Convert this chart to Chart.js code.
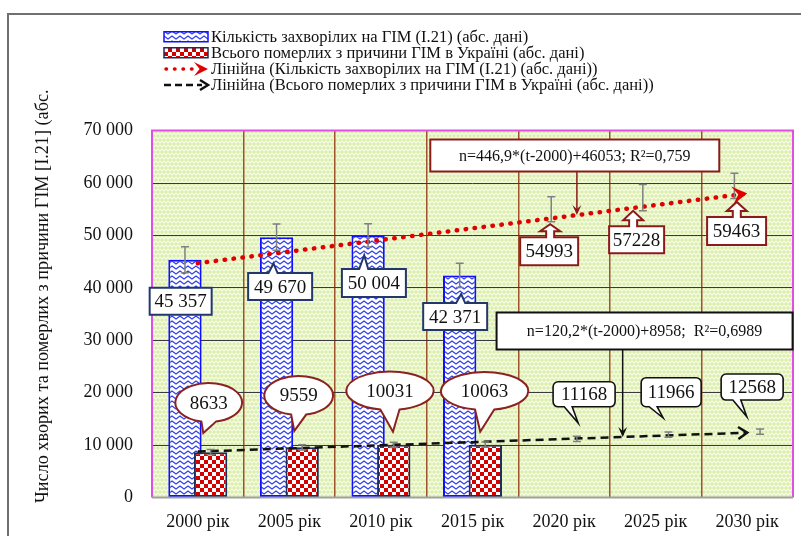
<!DOCTYPE html>
<html>
<head>
<meta charset="utf-8">
<script src="https://cdn.jsdelivr.net/npm/chart.js@4.4.1/dist/chart.umd.min.js"></script>
<style>
  html, body { margin: 0; padding: 0; background: #fff; }
  #wrap { position: relative; width: 801px; height: 536px; }
</style>
</head>
<body>
<div id="wrap"><canvas id="chart"></canvas></div>
<script>
// --- Data ---
const years = ['2000 рік', '2005 рік', '2010 рік', '2015 рік', '2020 рік', '2025 рік', '2030 рік'];
const sickCounts = [45357, 49670, 50004, 42371, null, null, null];
const deathCounts = [8633, 9559, 10031, 10063, null, null, null];
const sickForecast = [null, null, null, null, 54993, 57228, 59463];
const deathForecast = [null, null, null, null, 11168, 11966, 12568];
const sickTrend = [44700, null, null, null, null, null, 58000];
const deathTrend = [8750, null, null, null, null, null, 12350];
const sickError = [2500, 2500, 2200, 2300, 2400, 2500, 2400];
const deathError = [500, 500, 500, 500, 500, 500, 500];
const yMax = 70000;
const yStep = 10000;

const seriesNames = [
    'Кількість захворілих на ГІМ (І.21) (абс. дані)',
    'Всього померлих з причини ГІМ в Україні (абс. дані)',
    'Лінійна (Кількість захворілих на ГІМ (І.21) (абс. дані))',
    'Лінійна (Всього померлих з причини ГІМ в Україні (абс. дані))'
];
const sickEquation = 'n=446,9*(t-2000)+46053; R²=0,759';
const deathEquation = 'n=120,2*(t-2000)+8958;  R²=0,6989';
const yTitle = 'Число хворих та померлих з причини ГІМ [І.21] (абс.';

// --- Callout layout (offsets from the anchor point, px) ---
const sickLabelLayout = [
    { dx: -4.3, dy: 41.4, w: 62, h: 27, tip: null },
    { dx: 3.6, dy: 49.4, w: 64, h: 27, tip: [-3, 26.3] },
    { dx: 5.8, dy: 47.7, w: 64, h: 28, tip: [-3.9, 19.8] },
    { dx: -4.5, dy: 41.2, w: 64, h: 27, tip: [1.5, 18.7] }
];
const deathLabelLayout = [
    { dx: -1.9, dy: -49.6, rx: 33.4, ry: 19.5, tip: [-7.3, -19.1] },
    { dx: -3.5, dy: -51.8, rx: 34.4, ry: 19.5, tip: [-7.9, -16.3] },
    { dx: -3.8, dy: -54, rx: 43.7, ry: 19.2, tip: [-0.8, -13.1] },
    { dx: -0.7, dy: -53.6, rx: 43.7, ry: 19, tip: [-5.1, -12.9] }
];
const sickForecastLayout = [
    { dx: -2.1, dy: 41.9, w: 58, h: 28, tip: [-1.1, 14.9] },
    { dx: -6.2, dy: 42.3, w: 55, h: 27, tip: [-9.7, 13.3] },
    { dx: 2.2, dy: 45.2, w: 59, h: 28, tip: [2.4, 16.1] }
];
const deathForecastLayout = [
    { dx: 7.2, dy: -44.6, w: 62, h: 25, tip: [1.3, -15.8] },
    { dx: 2.7, dy: -42.5, w: 60, h: 29, tip: [-5.3, -16.7] },
    { dx: -7.9, dy: -44.5, w: 62, h: 26, tip: [-13.2, -14.8] }
];
const equationLayout = [
    { text: sickEquation, dataset: 2, at: 4.14, dx: -2.1, dy: -59.5, w: 289, h: 32, color: '#8b1a1a' },
    { text: deathEquation, dataset: 3, at: 4.64, dx: 21.9, dy: -105.9, w: 296, h: 37, color: '#111' }
];

const SERIF = '"Liberation Serif", "Times New Roman", serif';

// --- Patterns ---
const makePattern = (w, h, paint) => {
    const c = document.createElement('canvas');
    c.width = w; c.height = h;
    const g = c.getContext('2d');
    paint(g, w, h);
    return g.createPattern(c, 'repeat');
};

const plotPattern = makePattern(8, 8, (g) => {
    g.fillStyle = '#d9eea6';
    g.fillRect(0, 0, 8, 8);
    g.strokeStyle = '#f6fbe8';
    g.lineWidth = 1.3;
    g.beginPath();
    g.moveTo(-2, 3); g.lineTo(0, 1); g.lineTo(2, 3); g.lineTo(4, 1); g.lineTo(6, 3); g.lineTo(8, 1); g.lineTo(10, 3);
    g.moveTo(-2, 5); g.lineTo(0, 7); g.lineTo(2, 5); g.lineTo(4, 7); g.lineTo(6, 5); g.lineTo(8, 7); g.lineTo(10, 5);
    g.stroke();
});

const bluePattern = makePattern(8, 5, (g) => {
    g.fillStyle = '#ffffff';
    g.fillRect(0, 0, 8, 5);
    g.strokeStyle = '#2f3ff0';
    g.lineWidth = 1.3;
    g.beginPath();
    g.moveTo(-4, 1); g.lineTo(0, 4); g.lineTo(4, 1); g.lineTo(8, 4); g.lineTo(12, 1);
    g.stroke();
});

const redPattern = makePattern(8, 8, (g) => {
    g.fillStyle = '#ffffff';
    g.fillRect(0, 0, 8, 8);
    g.fillStyle = '#d40000';
    g.fillRect(0, 0, 4, 4);
    g.fillRect(4, 4, 4, 4);
});

const fmtThousands = (v) => v >= 1000 ? Math.floor(v / 1000) + ' ' + String(v % 1000).padStart(3, '0') : String(v);

// --- Drawing helpers ---
const arrowHead = (ctx, x, y, angle, len, half, color, filled, width) => {
    ctx.save();
    ctx.translate(x, y);
    ctx.rotate(angle);
    ctx.beginPath();
    if (filled) {
        ctx.moveTo(0, 0);
        ctx.lineTo(-len, -half);
        ctx.lineTo(-len * 0.6, 0);
        ctx.lineTo(-len, half);
        ctx.closePath();
        ctx.fillStyle = color;
        ctx.fill();
    } else {
        ctx.moveTo(-len, -half);
        ctx.lineTo(0, 0);
        ctx.lineTo(-len, half);
        ctx.strokeStyle = color;
        ctx.lineWidth = width;
        ctx.lineJoin = 'miter';
        ctx.setLineDash([]);
        ctx.stroke();
    }
    ctx.restore();
};

const fillStroke = (ctx, stroke, width) => {
    ctx.fillStyle = '#ffffff';
    ctx.fill();
    ctx.strokeStyle = stroke;
    ctx.lineWidth = width;
    ctx.setLineDash([]);
    ctx.stroke();
};

const drawText = (ctx, text, x, y, size) => {
    ctx.fillStyle = '#111';
    ctx.font = `${size}px ${SERIF}`;
    ctx.textAlign = 'center';
    ctx.textBaseline = 'middle';
    ctx.fillText(text, x, y + 1);
};

// rectangle with a wedge pointing up
const rectUpCallout = (ctx, cx, cy, w, h, tip, stroke) => {
    const l = cx - w / 2, t = cy - h / 2, r = cx + w / 2, b = cy + h / 2;
    ctx.beginPath();
    ctx.moveTo(l, t);
    if (tip) {
        ctx.lineTo(tip.x - 5, t);
        ctx.lineTo(tip.x, tip.y);
        ctx.lineTo(tip.x + 4, t);
    }
    ctx.lineTo(r, t);
    ctx.lineTo(r, b);
    ctx.lineTo(l, b);
    ctx.closePath();
    fillStroke(ctx, stroke, 2);
};

// rectangle with a small up arrow on top
const arrowUpCallout = (ctx, cx, cy, w, h, tip, stroke) => {
    const l = cx - w / 2, t = cy - h / 2, r = cx + w / 2, b = cy + h / 2;
    const neck = t - 6;
    ctx.beginPath();
    ctx.moveTo(l, t);
    ctx.lineTo(tip.x - 4, t);
    ctx.lineTo(tip.x - 4, neck);
    ctx.lineTo(tip.x - 10, neck);
    ctx.lineTo(tip.x, tip.y);
    ctx.lineTo(tip.x + 10, neck);
    ctx.lineTo(tip.x + 4, neck);
    ctx.lineTo(tip.x + 4, t);
    ctx.lineTo(r, t);
    ctx.lineTo(r, b);
    ctx.lineTo(l, b);
    ctx.closePath();
    fillStroke(ctx, stroke, 2);
};

// ellipse with a wedge pointing down
const ellipseCallout = (ctx, cx, cy, rx, ry, tip, stroke) => {
    const a1 = Math.PI / 2 - 0.22;
    const a2 = Math.PI / 2 + 0.22;
    ctx.beginPath();
    ctx.ellipse(cx, cy, rx, ry, 0, a2, a1 + Math.PI * 2);
    ctx.lineTo(tip.x, tip.y);
    ctx.closePath();
    fillStroke(ctx, stroke, 2);
};

// rounded rectangle with a wedge pointing down
const roundDownCallout = (ctx, cx, cy, w, h, tip, stroke) => {
    const l = cx - w / 2, t = cy - h / 2, r = cx + w / 2, b = cy + h / 2, k = 5;
    ctx.beginPath();
    ctx.moveTo(l + k, t);
    ctx.lineTo(r - k, t);
    ctx.arcTo(r, t, r, t + k, k);
    ctx.lineTo(r, b - k);
    ctx.arcTo(r, b, r - k, b, k);
    ctx.lineTo(tip.x - 6, b);
    ctx.lineTo(tip.x, tip.y);
    ctx.lineTo(tip.x - 14, b);
    ctx.lineTo(l + k, b);
    ctx.arcTo(l, b, l, b - k, k);
    ctx.lineTo(l, t + k);
    ctx.arcTo(l, t, l + k, t, k);
    ctx.closePath();
    fillStroke(ctx, stroke, 1.6);
};

// --- Plugins ---
const backdropPlugin = {
    id: 'backdrop',
    beforeDraw(chart) {
        const { ctx, chartArea: a } = chart;
        ctx.save();
        ctx.fillStyle = '#ffffff';
        ctx.fillRect(0, 0, chart.width, chart.height);
        ctx.fillStyle = plotPattern;
        ctx.fillRect(a.left, a.top, a.right - a.left, a.bottom - a.top);
        // outer frame
        ctx.strokeStyle = '#707070';
        ctx.lineWidth = 2;
        ctx.beginPath();
        ctx.moveTo(8, chart.height);
        ctx.lineTo(8, 14);
        ctx.lineTo(chart.width, 14);
        ctx.stroke();
        ctx.restore();
    }
};

// blue bars go under the red ones
const barOrderPlugin = {
    id: 'barOrder',
    beforeDatasetsDraw(chart) {
        const { ctx, chartArea: a } = chart;
        ctx.save();
        ctx.beginPath();
        ctx.rect(a.left, a.top, a.right - a.left, a.bottom - a.top);
        ctx.clip();
        chart.getDatasetMeta(0).controller.draw();
        ctx.restore();
    },
    beforeDatasetDraw(chart, args) {
        if (args.index === 0) return false;
    }
};

const overlayPlugin = {
    id: 'overlay',
    afterDatasetsDraw(chart) {
        const { ctx, chartArea: a } = chart;
        const yScale = chart.scales.y;
        const blueMeta = chart.getDatasetMeta(0);
        const redMeta = chart.getDatasetMeta(1);
        ctx.save();

        // error bars
        const errorBars = (meta, values, forecast, errors) => {
            ctx.strokeStyle = '#808080';
            ctx.lineWidth = 1.5;
            ctx.setLineDash([]);
            values.forEach((v, i) => {
                const val = v ?? forecast[i];
                if (val == null) return;
                const x = meta.data[i].x;
                const y1 = yScale.getPixelForValue(val - errors[i]);
                const y2 = yScale.getPixelForValue(val + errors[i]);
                ctx.beginPath();
                ctx.moveTo(x, y1); ctx.lineTo(x, y2);
                ctx.moveTo(x - 4, y1); ctx.lineTo(x + 4, y1);
                ctx.moveTo(x - 4, y2); ctx.lineTo(x + 4, y2);
                ctx.stroke();
            });
        };
        errorBars(blueMeta, sickCounts, sickForecast, sickError);
        errorBars(redMeta, deathCounts, deathForecast, deathError);

        // trend arrow heads
        const trendEnds = (idx) => {
            const pts = chart.getDatasetMeta(idx).data;
            return { p0: pts[0], p1: pts[pts.length - 1] };
        };
        const redEnd = trendEnds(2);
        arrowHead(ctx, redEnd.p1.x, redEnd.p1.y, Math.atan2(redEnd.p1.y - redEnd.p0.y, redEnd.p1.x - redEnd.p0.x), 15, 9, '#e00000', true);
        const blackEnd = trendEnds(3);
        arrowHead(ctx, blackEnd.p1.x, blackEnd.p1.y, Math.atan2(blackEnd.p1.y - blackEnd.p0.y, blackEnd.p1.x - blackEnd.p0.x), 9, 6, '#111', false, 2.5);

        // plot border
        ctx.lineWidth = 2;
        ctx.strokeStyle = '#e04ee8';
        ctx.beginPath();
        ctx.moveTo(a.left, a.bottom);
        ctx.lineTo(a.left, a.top);
        ctx.lineTo(a.right, a.top);
        ctx.lineTo(a.right, a.bottom);
        ctx.stroke();
        ctx.strokeStyle = '#a0a0a0';
        ctx.beginPath();
        ctx.moveTo(a.left, a.bottom);
        ctx.lineTo(a.right, a.bottom);
        ctx.stroke();

        // equation boxes with arrows
        equationLayout.forEach((eq) => {
            const { p0, p1 } = trendEnds(eq.dataset);
            const tx = chart.scales.x.getPixelForValue(eq.at);
            const ty = p0.y + (p1.y - p0.y) * (tx - p0.x) / (p1.x - p0.x);
            const cx = tx + eq.dx, cy = ty + eq.dy;
            ctx.beginPath();
            ctx.rect(cx - eq.w / 2, cy - eq.h / 2, eq.w, eq.h);
            fillStroke(ctx, eq.color, 2);
            ctx.strokeStyle = eq.color;
            ctx.lineWidth = 1.5;
            ctx.beginPath();
            ctx.moveTo(tx, cy + eq.h / 2);
            ctx.lineTo(tx, ty - 2);
            ctx.stroke();
            arrowHead(ctx, tx, ty, Math.PI / 2, 10, 4.5, eq.color, true);
            drawText(ctx, eq.text, cx, cy, 16);
        });

        // callouts on the bars
        sickLabelLayout.forEach((lay, i) => {
            const el = blueMeta.data[i];
            const ay = yScale.getPixelForValue(sickCounts[i]);
            const tip = lay.tip ? { x: el.x + lay.tip[0], y: ay + lay.tip[1] } : null;
            rectUpCallout(ctx, el.x + lay.dx, ay + lay.dy, lay.w, lay.h, tip, '#23386a');
            drawText(ctx, fmtThousands(sickCounts[i]), el.x + lay.dx, ay + lay.dy, 19);
        });
        deathLabelLayout.forEach((lay, i) => {
            const el = redMeta.data[i];
            const ay = yScale.getPixelForValue(deathCounts[i]);
            ellipseCallout(ctx, el.x + lay.dx, ay + lay.dy, lay.rx, lay.ry, { x: el.x + lay.tip[0], y: ay + lay.tip[1] }, '#8b2222');
            drawText(ctx, String(deathCounts[i]), el.x + lay.dx, ay + lay.dy, 19);
        });
        sickForecastLayout.forEach((lay, k) => {
            const i = 4 + k;
            const el = blueMeta.data[i];
            const ay = yScale.getPixelForValue(sickForecast[i]);
            arrowUpCallout(ctx, el.x + lay.dx, ay + lay.dy, lay.w, lay.h, { x: el.x + lay.tip[0], y: ay + lay.tip[1] }, '#8b1a1a');
            drawText(ctx, String(sickForecast[i]), el.x + lay.dx, ay + lay.dy, 19);
        });
        deathForecastLayout.forEach((lay, k) => {
            const i = 4 + k;
            const el = redMeta.data[i];
            const ay = yScale.getPixelForValue(deathForecast[i]);
            roundDownCallout(ctx, el.x + lay.dx, ay + lay.dy, lay.w, lay.h, { x: el.x + lay.tip[0], y: ay + lay.tip[1] }, '#111');
            drawText(ctx, String(deathForecast[i]), el.x + lay.dx, ay + lay.dy, 19);
        });

        ctx.restore();
    },
    afterDraw(chart) {
        const { ctx } = chart;
        ctx.save();

        // legend
        const rows = [36.7, 52.8, 68.9, 85];
        const ix = 164, iw = 44, tx = 211;
        ctx.lineWidth = 1.5;
        ctx.beginPath();
        ctx.rect(ix, rows[0] - 5, iw, 10);
        ctx.fillStyle = bluePattern; ctx.fill();
        ctx.strokeStyle = '#1010ff'; ctx.stroke();
        ctx.beginPath();
        ctx.rect(ix, rows[1] - 5, iw, 10);
        ctx.fillStyle = redPattern; ctx.fill();
        ctx.strokeStyle = '#1c2e5a'; ctx.stroke();

        ctx.beginPath();
        ctx.moveTo(ix + 2, rows[2]); ctx.lineTo(ix + 32, rows[2]);
        ctx.strokeStyle = '#e00000'; ctx.lineWidth = 3.5; ctx.lineCap = 'round';
        ctx.setLineDash([0.5, 8]); ctx.stroke();
        arrowHead(ctx, ix + iw, rows[2], 0, 14, 7, '#e00000', true);

        ctx.beginPath();
        ctx.moveTo(ix, rows[3]); ctx.lineTo(ix + 38, rows[3]);
        ctx.strokeStyle = '#111'; ctx.lineWidth = 2.5; ctx.lineCap = 'butt';
        ctx.setLineDash([7, 4]); ctx.stroke();
        ctx.setLineDash([]);
        arrowHead(ctx, ix + iw, rows[3], 0, 8, 5, '#111', false, 2.5);

        ctx.fillStyle = '#111';
        ctx.font = `16.5px ${SERIF}`;
        ctx.textAlign = 'left';
        ctx.textBaseline = 'middle';
        seriesNames.forEach((name, i) => ctx.fillText(name, tx, rows[i] + 1));

        // y axis title
        ctx.translate(43, 503);
        ctx.rotate(-Math.PI / 2);
        ctx.font = `18.2px ${SERIF}`;
        ctx.textAlign = 'left';
        ctx.fillText(yTitle, 0, 0);
        ctx.restore();
    }
};

// --- Chart ---
const ctx = document.getElementById('chart').getContext('2d');
new Chart(ctx, {
    data: {
        labels: years,
        datasets: [
            {
                type: 'bar',
                label: seriesNames[0],
                data: sickCounts,
                backgroundColor: bluePattern,
                borderColor: '#1010ff',
                borderWidth: 2,
                borderSkipped: false,
                categoryPercentage: 0.56,
                barPercentage: 1.3
            },
            {
                type: 'bar',
                label: seriesNames[1],
                data: deathCounts,
                backgroundColor: redPattern,
                borderColor: '#1c2e5a',
                borderWidth: 2,
                borderSkipped: false,
                categoryPercentage: 0.56,
                barPercentage: 1.3
            },
            {
                type: 'line',
                label: seriesNames[2],
                data: sickTrend,
                order: -1,
                spanGaps: true,
                borderColor: '#e00000',
                borderWidth: 4.5,
                borderDash: [0.5, 8.5],
                borderCapStyle: 'round',
                pointRadius: 0,
                fill: false
            },
            {
                type: 'line',
                label: seriesNames[3],
                data: deathTrend,
                order: -1,
                spanGaps: true,
                borderColor: '#111',
                borderWidth: 2.5,
                borderDash: [8, 5],
                pointRadius: 0,
                fill: false
            }
        ]
    },
    options: {
        responsive: true,
        maintainAspectRatio: false,
        animation: false,
        layout: { padding: { top: 130.6, right: 8, left: 0, bottom: 0 } },
        plugins: {
            legend: { display: false },
            tooltip: { enabled: false }
        },
        scales: {
            x: {
                offset: true,
                grid: { offset: true, color: '#a0522d', lineWidth: 1.5, drawTicks: false },
                border: { display: false },
                ticks: { color: '#111', font: { family: SERIF, size: 18 }, padding: 14, maxRotation: 0 },
                afterFit: (s) => { s.height = 38.6; }
            },
            y: {
                min: 0,
                max: yMax,
                grid: { color: '#3a3a3a', lineWidth: 1, drawTicks: false },
                border: { display: false },
                ticks: {
                    stepSize: yStep,
                    color: '#111',
                    padding: 19,
                    font: { family: SERIF, size: 18 },
                    callback: (v) => fmtThousands(v)
                },
                afterFit: (s) => { s.width = 152; }
            }
        }
    },
    plugins: [backdropPlugin, barOrderPlugin, overlayPlugin]
});
</script>
</body>
</html>
